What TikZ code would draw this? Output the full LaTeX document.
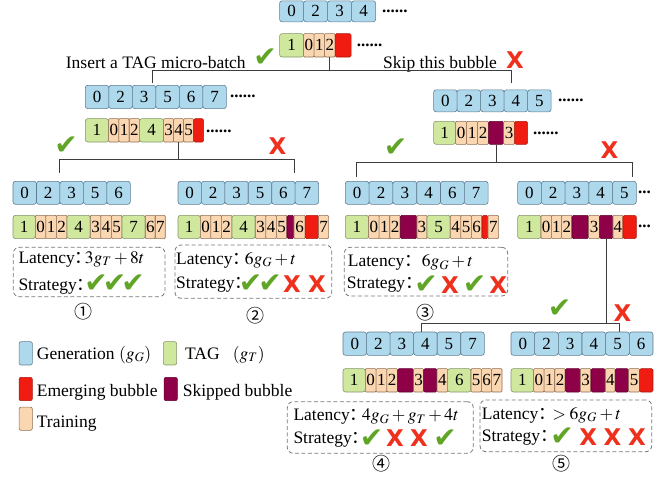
\documentclass[tikz,border=0pt]{standalone}
\usepackage{mathptmx}
\usepackage{fontspec}
\setmainfont{Liberation Serif}
\newfontfamily\cjk{Noto Sans CJK SC}
\newfontfamily\symfont{DejaVu Sans}

\definecolor{genfill}{RGB}{174,216,236}
\definecolor{genline}{RGB}{95,125,145}
\definecolor{tagfill}{RGB}{208,232,158}
\definecolor{tagline}{RGB}{130,150,105}
\definecolor{trnfill}{RGB}{250,215,176}
\definecolor{trnline}{RGB}{140,110,85}
\definecolor{embfill}{RGB}{240,28,18}
\definecolor{embline}{RGB}{170,25,15}
\definecolor{skpfill}{RGB}{142,0,72}
\definecolor{skpline}{RGB}{95,0,45}
\definecolor{okgreen}{RGB}{96,165,38}
\definecolor{nored}{RGB}{238,48,28}
\definecolor{linkgray}{RGB}{60,60,60}
\definecolor{boxgray}{RGB}{120,120,120}

\newcommand\fcol{{\cjk ：}}
% the colon glyph sits in the left half of its em box; trim the empty half
\newcommand\fcolshort{{\cjk ：}\hspace{-0.55em}}
\newcommand\sixdots{\raisebox{0.25em}{\bfseries ......}}
\newcommand\threedots{\raisebox{0.25em}{\bfseries ...}}

% a row of cells: start x, top y, height; each \cel advances the running x
\newcommand\rowat[3]{\xdef\curx{#1}\xdef\cury{#2}\xdef\curh{#3}}
\newcommand\cel[4]{%
  \node[#2, minimum width=#3, minimum height=\curh, anchor=north west] (#1) at (\curx,\cury) {#4};%
  \pgfmathsetmacro\tmpx{\curx+#3}\xdef\curx{\tmpx}}

\tikzset{
  cellbase/.style={inner sep=0pt, line width=0.6pt, font=\fontsize{17}{17}\selectfont},
  gen/.style={cellbase, draw=genline, fill=genfill, rounded corners=2.5pt},
  tagc/.style={cellbase, draw=tagline, fill=tagfill, rounded corners=2.5pt},
  trn/.style={cellbase, draw=trnline, fill=trnfill, rounded corners=1pt},
  emb/.style={cellbase, draw=embline, fill=embfill, rounded corners=1.5pt},
  skp/.style={cellbase, draw=skpline, fill=skpfill, rounded corners=1.5pt},
  ellip/.style={inner sep=0pt, anchor=base west, font=\fontsize{17}{17}\selectfont},
  conn/.style={draw=linkgray, line width=1pt},
  okm/.style={inner sep=0pt, text=okgreen, font=\symfont\fontsize{28}{28}\selectfont, node contents={✔}},
  xm/.style={inner sep=0pt, text=nored, font=\symfont\bfseries\fontsize{23}{23}\selectfont, node contents={X}},
  dbox/.style={draw=boxgray, line width=0.8pt, dash pattern=on 4pt off 2.5pt, rounded corners=6pt, inner sep=0pt},
  lbl/.style={inner sep=0pt, anchor=base west, font=\fontsize{17.5}{20}\selectfont},
  circnum/.style={inner sep=0pt, font=\cjk\fontsize{18}{18}\selectfont},
  swatch/.style={minimum width=13.3, minimum height=23.3, line width=0.6pt, rounded corners=2pt, inner sep=0pt}
}

\begin{document}
\begin{tikzpicture}[x=1pt, y=-1pt]
\useasboundingbox (0,0) rectangle (670,480);

% ---------- level 1 ----------
\rowat{279.3}{0.5}{21}
\cel{A1}{gen}{24}{0}\cel{A2}{gen}{24}{2}\cel{A3}{gen}{24}{3}\cel{A4}{gen}{24}{4}
\node[ellip] (Ad) at (382,16.3) {\sixdots};
\rowat{279.3}{33.3}{23.4}
\cel{B1}{tagc}{24}{1}\cel{B2}{trn}{10.5}{0}\cel{B3}{trn}{10.5}{1}\cel{B4}{trn}{10.5}{2}\cel{B5}{emb}{16}{}
\node[ellip] (Bd) at (356.7,50.3) {\sixdots};

\node[lbl] (ins) at (65.7,68) {Insert a TAG micro-batch};
\node (okA) at (265,58) [okm];
\node[lbl] (skip) at (383,68) {Skip this bubble};
\node (xA) at (515,60.5) [xm];

% ---------- level 2, left ----------
\rowat{85}{85}{23.3}
\cel{C1}{gen}{23.5}{0}\cel{C2}{gen}{23.5}{2}\cel{C3}{gen}{23.5}{3}\cel{C4}{gen}{23.5}{5}\cel{C5}{gen}{23.5}{6}\cel{C6}{gen}{23.5}{7}
\node[ellip] (Cd) at (230,102) {\sixdots};
\rowat{85}{118.3}{23.4}
\cel{D1}{tagc}{23.3}{1}\cel{D2}{trn}{10.33}{0}\cel{D3}{trn}{10.33}{1}\cel{D4}{trn}{10.33}{2}%
\cel{D5}{tagc}{24}{4}\cel{D6}{trn}{10}{3}\cel{D7}{trn}{10}{4}\cel{D8}{trn}{10}{5}\cel{D9}{emb}{10}{}
\node[ellip] (Dd) at (206,137) {\sixdots};

% ---------- level 2, right ----------
\rowat{433.3}{89.5}{22}
\cel{E1}{gen}{23.5}{0}\cel{E2}{gen}{23.5}{2}\cel{E3}{gen}{23.5}{3}\cel{E4}{gen}{23.5}{4}\cel{E5}{gen}{23.5}{5}
\node[ellip] (Ed) at (558,105.3) {\sixdots};
\rowat{433.3}{121}{23}
\cel{F1}{tagc}{22}{1}\cel{F2}{trn}{11}{0}\cel{F3}{trn}{11}{1}\cel{F4}{trn}{11}{2}%
\cel{F5}{skp}{15}{}\cel{F6}{trn}{11}{3}\cel{F7}{emb}{13}{}
\node[ellip] (Fd) at (533,138.6) {\sixdots};

% level 1 -> level 2
\coordinate (yA) at (0,70.7);
\coordinate (lA) at (152.4,83.3);
\coordinate (rA) at (511.6,83.3);
\draw[conn] (B4.south) -- (B4.south |- yA);
\draw[conn] (lA) -- (lA |- yA) -- (rA |- yA) -- (rA);

\node (okB) at (66,145.5) [okm];
\node (xB) at (277.5,146.5) [xm];
\node (okC) at (395.5,147.5) [okm];
\node (xC) at (609.5,150) [xm];

% ---------- level 3 ----------
\rowat{12.7}{181}{23}
\cel{G1}{gen}{23.46}{0}\cel{G2}{gen}{23.46}{2}\cel{G3}{gen}{23.46}{3}\cel{G4}{gen}{23.46}{5}\cel{G5}{gen}{23.46}{6}
\rowat{12.7}{215}{23.3}
\cel{H1}{tagc}{22.3}{1}\cel{H2}{trn}{10.56}{0}\cel{H3}{trn}{10.56}{1}\cel{H4}{trn}{10.56}{2}%
\cel{H5}{tagc}{23.3}{4}\cel{H6}{trn}{10.56}{3}\cel{H7}{trn}{10.56}{4}\cel{H8}{trn}{10.56}{5}%
\cel{H9}{tagc}{23.3}{7}\cel{H10}{trn}{10}{6}\cel{H11}{trn}{10}{7}

\rowat{177.7}{181}{23}
\cel{I1}{gen}{23.43}{0}\cel{I2}{gen}{23.43}{2}\cel{I3}{gen}{23.43}{3}\cel{I4}{gen}{23.43}{5}\cel{I5}{gen}{23.43}{6}\cel{I6}{gen}{23.43}{7}
\rowat{177.7}{215}{23.3}
\cel{J1}{tagc}{22.3}{1}\cel{J2}{trn}{10.56}{0}\cel{J3}{trn}{10.56}{1}\cel{J4}{trn}{10.56}{2}%
\cel{J5}{tagc}{23.3}{4}\cel{J6}{trn}{10.56}{3}\cel{J7}{trn}{10.56}{4}\cel{J8}{trn}{10.56}{5}%
\cel{J9}{skp}{7}{}\cel{J10}{trn}{11.3}{6}\cel{J11}{emb}{13.3}{}\cel{J12}{trn}{10}{7}

\rowat{345}{181}{23}
\cel{K1}{gen}{23.8}{0}\cel{K2}{gen}{23.8}{2}\cel{K3}{gen}{23.8}{3}\cel{K4}{gen}{23.8}{4}\cel{K5}{gen}{23.8}{6}\cel{K6}{gen}{23.8}{7}
\rowat{345}{215}{23.3}
\cel{L1}{tagc}{23.3}{1}\cel{L2}{trn}{10.56}{0}\cel{L3}{trn}{10.56}{1}\cel{L4}{trn}{10.56}{2}%
\cel{L5}{skp}{16.7}{}\cel{L6}{trn}{10}{3}\cel{L7}{tagc}{23.3}{5}%
\cel{L8}{trn}{10.56}{4}\cel{L9}{trn}{10.56}{5}\cel{L10}{trn}{10.56}{6}\cel{L11}{emb}{6}{}\cel{L12}{trn}{10.6}{7}

\rowat{517.3}{181}{23}
\cel{M1}{gen}{23.74}{0}\cel{M2}{gen}{23.74}{2}\cel{M3}{gen}{23.74}{3}\cel{M4}{gen}{23.74}{4}\cel{M5}{gen}{23.74}{5}
\node[ellip] (Md) at (638,197.5) {\threedots};
\rowat{517.3}{215}{23.3}
\cel{N1}{tagc}{23.4}{1}\cel{N2}{trn}{10.33}{0}\cel{N3}{trn}{10.33}{1}\cel{N4}{trn}{10.33}{2}%
\cel{N5}{skp}{16.6}{}\cel{N6}{trn}{11}{3}\cel{N7}{skp}{13.4}{}\cel{N8}{trn}{10}{4}\cel{N9}{emb}{13.3}{}
\node[ellip] (Nd) at (638,231.8) {\threedots};

% level 2 -> level 3
\coordinate (yB) at (0,159.3);
\coordinate (lB) at (59.3,172.7);
\coordinate (rB) at (294,172.7);
\draw[conn] (D7.south) -- (D7.south |- yB);
\draw[conn] (lB) -- (lB |- yB) -- (rB |- yB) -- (rB);
\coordinate (yC) at (0,162.7);
\coordinate (lC) at (356.7,176.7);
\coordinate (rC) at (632.7,176.7);
\draw[conn] (F5.south) -- (F5.south |- yC);
\draw[conn] (lC) -- (lC |- yC) -- (rC |- yC) -- (rC);

% results of level 3
\node[dbox, minimum width=151.7, minimum height=49.4] (box1) at (89.15,272) {};
\node[lbl] (lat1) at (18.3,263.3) {Latency\fcol\hspace{-0.43em}$3g_T+8t$};
\node[lbl] (str1) at (18.3,290) {Strategy\fcolshort};
\node (s1a) at (96,283.3) [okm];\node (s1b) at (114.5,283.3) [okm];\node (s1c) at (133,283.3) [okm];
\node[circnum] (n1) at (83.3,311.7) {①};

\node[dbox, minimum width=156.7, minimum height=53.3] (box2) at (253.35,271.65) {};
\node[lbl] (lat2) at (176,264.3) {Latency\fcol\hspace{-0.3em}$6g_G+t$};
\node[lbl] (str2) at (176,288.3) {Strategy\fcolshort};
\node (s2a) at (250.5,283.5) [okm];\node (s2b) at (270,283.5) [okm];\node (s2c) at (292,284) [xm];\node (s2d) at (317,284) [xm];
\node[circnum] (n2) at (255,316) {②};

\node[dbox, minimum width=163.4, minimum height=48.7] (box3) at (426,271.65) {};
\node[lbl] (lat3) at (347.7,266.7) {Latency\fcol$6g_G+t$};
\node[lbl] (str3) at (346.7,288.3) {Strategy\fcolshort};
\node (s3a) at (426,285) [okm];\node (s3b) at (450,285) [xm];\node (s3c) at (474.7,285) [okm];\node (s3d) at (498.3,285) [xm];
\node[circnum] (n3) at (425,312.3) {③};

% level 3 -> level 4
\node (okD) at (559.5,309) [okm];
\node (xD) at (622.5,313.5) [xm];
\coordinate (yD) at (0,323.3);
\coordinate (lD) at (421.7,331.7);
\coordinate (rD) at (619.3,331.7);
\draw[conn] (N7.south) -- (N7.south |- yD);
\draw[conn] (lD) -- (lD |- yD) -- (rD |- yD) -- (rD);

% ---------- level 4 ----------
\rowat{342.7}{331.7}{23.3}
\cel{O1}{gen}{23.55}{0}\cel{O2}{gen}{23.55}{2}\cel{O3}{gen}{23.55}{3}\cel{O4}{gen}{23.55}{4}\cel{O5}{gen}{23.55}{5}\cel{O6}{gen}{23.55}{7}
\rowat{342.7}{368.3}{23.4}
\cel{P1}{tagc}{22.3}{1}\cel{P2}{trn}{10.77}{0}\cel{P3}{trn}{10.77}{1}\cel{P4}{trn}{10.77}{2}%
\cel{P5}{skp}{16}{}\cel{P6}{trn}{10}{3}\cel{P7}{skp}{13.4}{}\cel{P8}{trn}{10.6}{4}%
\cel{P9}{tagc}{23.4}{6}\cel{P10}{trn}{10.33}{5}\cel{P11}{trn}{10.33}{6}\cel{P12}{trn}{10.33}{7}

\rowat{510.7}{331.7}{23.3}
\cel{Q1}{gen}{23.67}{0}\cel{Q2}{gen}{23.67}{2}\cel{Q3}{gen}{23.67}{3}\cel{Q4}{gen}{23.67}{4}\cel{Q5}{gen}{23.67}{5}\cel{Q6}{gen}{23.67}{6}
\rowat{510.7}{368.3}{23.4}
\cel{R1}{tagc}{22.6}{1}\cel{R2}{trn}{10.56}{0}\cel{R3}{trn}{10.56}{1}\cel{R4}{trn}{10.56}{2}%
\cel{R5}{skp}{15}{}\cel{R6}{trn}{10.7}{3}\cel{R7}{skp}{14.3}{}\cel{R8}{trn}{10}{4}%
\cel{R9}{skp}{13.3}{}\cel{R10}{trn}{11}{5}\cel{R11}{emb}{13.4}{}

\node[dbox, minimum width=186, minimum height=51.6] (box4) at (380.3,427.5) {};
\node[lbl] (lat4) at (293.3,420.7) {Latency\fcol\hspace{-0.3em}$4g_G+g_T+4t$};
\node[lbl] (str4) at (293.3,443.3) {Strategy\fcolshort};
\node (s4a) at (371.7,438.3) [okm];\node (s4b) at (395,438.3) [xm];\node (s4c) at (419,438.3) [xm];\node (s4d) at (445,438.3) [okm];
\node[circnum] (n4) at (381.7,463.3) {④};

\node[dbox, minimum width=171.7, minimum height=51.7] (box5) at (565.85,425.85) {};
\node[lbl] (lat5) at (481.7,419) {Latency\fcol\hspace{-0.2em}$>6g_G+t$};
\node[lbl] (str5) at (481.7,441.7) {Strategy\fcolshort};
\node (s5a) at (562,436.7) [okm];\node (s5b) at (588.3,436.7) [xm];\node (s5c) at (612.5,436.7) [xm];\node (s5d) at (637,436.7) [xm];
\node[circnum] (n5) at (561.7,463.3) {⑤};

% ---------- legend ----------
\node[swatch, draw=genline, fill=genfill] (lg1) at (25.7,353.3) {};
\node[lbl] (lt1) at (36.7,359.3) {Generation $(g_G)$};
\node[swatch, draw=tagline, fill=tagfill] (lg2) at (170,353.3) {};
\node[lbl] (lt2) at (185,359.3) {TAG\hspace{0.75em}$(g_T)$};
\node[swatch, draw=embline, fill=embfill] (lg3) at (25.7,389) {};
\node[lbl] (lt3) at (36.7,396.7) {Emerging bubble};
\node[swatch, draw=skpline, fill=skpfill] (lg4) at (170.7,389) {};
\node[lbl] (lt4) at (182.7,396.7) {Skipped bubble};
\node[swatch, draw=trnline, fill=trnfill] (lg5) at (25.7,418.7) {};
\node[lbl] (lt5) at (36.7,427.3) {Training};
\end{tikzpicture}
\end{document}
